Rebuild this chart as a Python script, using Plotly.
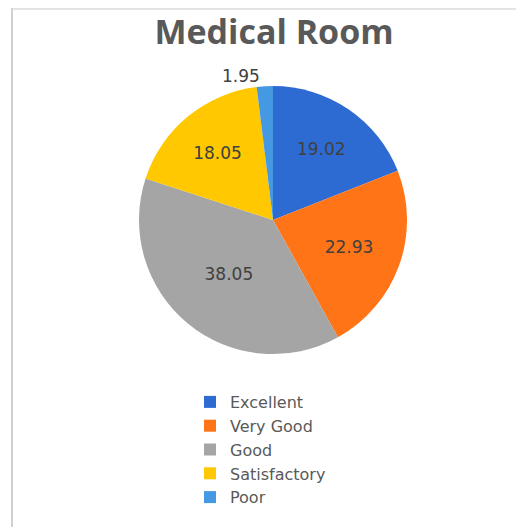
import plotly.graph_objects as go

categories = ["Excellent", "Very Good", "Good", "Satisfactory", "Poor"]
values = [19.02, 22.93, 38.05, 18.05, 1.95]
slice_colors = ["#2D6BD3", "#FF7416", "#A5A5A5", "#FFC800", "#4599E3"]
label_pos = ["inside", "inside", "inside", "inside", "outside"]

ink = "#595959"  # title / legend text
canvas = "white"

# page body has an 8px margin, so the figure is a bit smaller than the window
W, H = 516, 519

fig = go.Figure()
fig.add_trace(go.Pie(labels=categories,
                     values=values,
                     sort=False,
                     direction="clockwise",
                     rotation=0,
                     marker=dict(colors=slice_colors, line=dict(color="white", width=0)),
                     texttemplate="%{value:.2f}",
                     textposition=label_pos,
                     insidetextorientation="horizontal",
                     textfont=dict(family="DejaVu Sans", size=17, color="#404040"),
                     outsidetextfont=dict(family="DejaVu Sans", size=17, color="#404040"),
                     hoverinfo="label+value",
                     domain=dict(x=[0.2539, 0.7733], y=[0.3333, 0.8497])))

fig.update_layout(width=W, height=H,
                  margin=dict(l=0, r=0, t=0, b=0),
                  plot_bgcolor=canvas,
                  paper_bgcolor=canvas,
                  title=dict(text="<b>Medical Room</b>",
                             font=dict(family="Open Sans", size=34, color=ink),
                             x=0.5155, xanchor="center",
                             y=0.954, yanchor="middle"),
                  showlegend=True,
                  legend=dict(orientation="v",
                              x=0.3527, xanchor="left",
                              y=0.2736, yanchor="top",
                              font=dict(family="DejaVu Sans", size=16, color=ink),
                              traceorder="normal",
                              itemclick=False),
                  shapes=[dict(type="line", xref="paper", yref="paper",
                               x0=4/W, x1=4/W, y0=0, y1=1,
                               line=dict(color="#D0D0D0", width=2)),
                          dict(type="line", xref="paper", yref="paper",
                               x0=4/W, x1=1, y0=1-1/H, y1=1-1/H,
                               line=dict(color="#DADADA", width=1.5))])

fig.write_html("out.html")
